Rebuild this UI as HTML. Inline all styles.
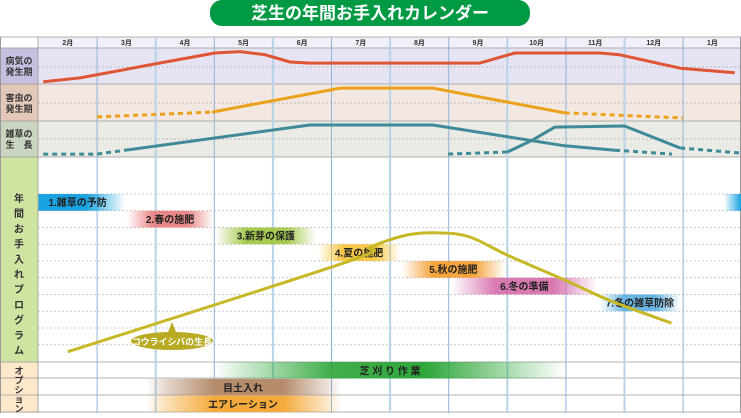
<!DOCTYPE html>
<html><head><meta charset="utf-8"><style>
html,body{margin:0;padding:0;background:#fff;}
body{width:741px;height:413px;overflow:hidden;font-family:"Liberation Sans","Noto Sans CJK JP",sans-serif;}
svg text{font-family:"Liberation Sans","Noto Sans CJK JP",sans-serif;}
</style></head><body>
<svg id="chart" width="741" height="413" viewBox="0 0 741 413" xmlns="http://www.w3.org/2000/svg">
<defs id="defs"></defs>
<g id="bg"></g><g id="grid"></g><g id="series"></g><g id="bars"></g><g id="labels"></g>
</svg>
<script>
const months = ["2月","3月","4月","5月","6月","7月","8月","9月","10月","11月","12月","1月"];
// series points: [month position, value 0-1 within row]
const diseasePts = [[0.08,0.06],[0.71,0.17],[1.9,0.53],[3.01,0.86],[3.44,0.9],[3.87,0.81],[4.29,0.61],[4.63,0.58],[7.53,0.58],[8.13,0.86],[9.58,0.86],[9.92,0.81],[10.95,0.44],[11.88,0.31]];
const pestDash1 = [[1.0,0.11],[2.96,0.24]];
const pestSolid = [[2.96,0.24],[5.15,0.89],[6.73,0.89],[8.98,0.22]];
const pestDash2 = [[8.98,0.22],[11.0,0.08]];
const weedADash1 = [[0.08,0.08],[1.0,0.08],[1.48,0.19]];
const weedASolid = [[1.48,0.19],[4.63,0.89],[6.73,0.89],[8.98,0.31],[9.84,0.19]];
const weedADash2 = [[9.84,0.19],[10.81,0.08]];
const weedBDash1 = [[6.99,0.08],[8.0,0.14]];
const weedBSolid = [[8.0,0.14],[8.43,0.47],[8.81,0.83],[10.0,0.86],[10.95,0.25]];
const weedBDash2 = [[10.95,0.25],[11.97,0.11]];
// growth of Korai-shiba (0-100 scale)
const growthPts = [[0.5,5],[5.28,49],[5.66,56],[6.3,62],[6.85,63],[7.36,61],[8.01,52],[8.98,40],[9.75,30],[10.8,19]];
// program bars: label, start month, end month, row
const progLabels = ["1.雑草の予防","2.春の施肥","3.新芽の保護","4.夏の施肥","5.秋の施肥","6.冬の準備","7.冬の雑草防除"];
const progStart = [0,1.51,3.02,4.77,6.2,7.05,9.58];
const progEnd = [1.48,2.98,4.74,6.17,7.96,9.53,10.95];
const progColors = ["#1aa3e0","#e77a7a","#9cc43c","#f7c234","#f49a28","#d46aa8","#5aaee0"];
const optLabels = ["芝 刈 り 作 業","目土入れ","エアレーション"];
const optStart = [3.0,1.83,1.83];
const optEnd = [8.98,5.18,5.18];
const optColors = ["#2ea63a","#b58c6c","#f4a93a"];

const X0=38.5, MW=58.6;
const xs = m => X0 + m*MW;
const NS="http://www.w3.org/2000/svg";
function el(tag, attrs, parent){const e=document.createElementNS(NS,tag);for(const k in attrs)e.setAttribute(k,attrs[k]);parent.appendChild(e);return e;}
const bg=document.getElementById('bg'),grid=document.getElementById('grid'),ser=document.getElementById('series'),bars=document.getElementById('bars'),lab=document.getElementById('labels'),defs=document.getElementById('defs');

// title
const pill=el('path',{d:"M222 0 H518 A12 12 0 0 1 530 12 V14 A12 12 0 0 1 518 26 H222 A12 12 0 0 1 210 14 V12 A12 12 0 0 1 222 0Z",fill:"#009944"},bg);


const tt=el('text',{x:370,y:19,'text-anchor':'middle','font-size':17,'font-weight':'bold',fill:'#fff'},lab);
tt.textContent="芝生の年間お手入れカレンダー";



// rows
const rows=[[37,48,"#f1f0f8","#f1f0f8"],[48,84,"#e6e4f2","#c7bfe0"],[84,121,"#f3e7e1","#e3c7b8"],[121,157,"#e9ebe4","#c9d5c0"],[157,362,"#ffffff","#d0e4a2"],[362,413,"#ffffff","#fde8cc"]];
rows.forEach((r,i)=>{
  const a=el('rect',{x:38,y:r[0],width:703,height:r[1]-r[0],fill:r[2]},bg);
  
  
  const b=el('rect',{x:0,y:r[0],width:38,height:r[1]-r[0],fill:i==0?"#fff":r[3]},bg);
  
  
});
// mid dotted lines in top rows
[67,103,139].forEach(y=>{el('line',{x1:38,x2:741,y1:y,y2:y,stroke:'#aaa','stroke-width':0.8,'stroke-dasharray':'2 2'},grid);});
// program dashed lines
for(let i=0;i<10;i++){const y=194+i*16.75;el('line',{x1:38,x2:741,y1:y,y2:y,stroke:'#bbb','stroke-width':0.8,'stroke-dasharray':'2 2'},grid);}
// horizontal row borders
[37,48,84,121,157,362,378,395,412].forEach(y=>{el('line',{x1:0,x2:741,y1:y,y2:y,stroke:'#999','stroke-width':0.8},grid);});
el('line',{x1:38,x2:38,y1:37,y2:413,stroke:'#999','stroke-width':0.8},grid);
el('line',{x1:0.5,x2:0.5,y1:37,y2:413,stroke:'#999','stroke-width':1},grid);
el('line',{x1:740.5,x2:740.5,y1:37,y2:413,stroke:'#999','stroke-width':1},grid);
// vertical month lines
for(let i=1;i<12;i++){const l=el('line',{x1:xs(i),x2:xs(i),y1:37,y2:413,stroke:(i%2==0?'#b8d2e8':'#8fb4d8'),'stroke-width':(i%2==0?2:1)},grid);}
// month labels
months.forEach((m,i)=>{const t=el('text',{x:xs(i+0.5),y:45,'text-anchor':'middle','font-size':7,'font-weight':'bold',fill:'#333'},lab);t.textContent=m;

});
// row labels
function vlabel(lines,x,y,lh,fs){lines.forEach((s,i)=>{const t=el('text',{x:x,y:y+i*lh,'font-size':fs,'font-weight':'bold',fill:'#333','text-anchor':'middle'},lab);t.textContent=s;

});}
vlabel(["病気の","発生期"],19,64,11,9);
vlabel(["害虫の","発生期"],19,101,11,9);
vlabel(["雑草の","生　長"],19,137,11,9);
vlabel("年間お手入れプログラム".split(""),19,202,15.2,10);
vlabel("オプション".split(""),19,374,9.5,9);

function path(pts,y0,y1,color,dash,w){
  const d=pts.map((p,i)=>(i?'L':'M')+xs(p[0]).toFixed(1)+' '+(y1-(y1-y0)*p[1]).toFixed(1)).join(' ');
  const a={d:d,fill:'none',stroke:color,'stroke-width':w||3,'stroke-linejoin':'round'};
  if(dash)a['stroke-dasharray']=dash;
  return el('path',a,ser);
}
const C1="#e05535",C2="#eba21a",C3="#3f8a98";
let p;
p=path(diseasePts,48,84,C1);
p=path(pestDash1,84,121,C2,'5 4');
p=path(pestSolid,84,121,C2);
p=path(pestDash2,84,121,C2,'5 4');
p=path(weedADash1,121,157,C3,'5 4');
p=path(weedASolid,121,157,C3);
p=path(weedADash2,121,157,C3,'5 4');
p=path(weedBDash1,121,157,C3,'5 4');
p=path(weedBSolid,121,157,C3);
p=path(weedBDash2,121,157,C3,'5 4');

function grad(id,color,leftSolid){
  const g=el('linearGradient',{id:id,x1:0,x2:1,y1:0,y2:0},defs);
  if(leftSolid){el('stop',{offset:'0','stop-color':color},g);el('stop',{offset:'0.55','stop-color':color},g);el('stop',{offset:'1','stop-color':color,'stop-opacity':0},g);}
  else{el('stop',{offset:'0','stop-color':color,'stop-opacity':0},g);el('stop',{offset:'0.3','stop-color':color,'stop-opacity':0.9},g);el('stop',{offset:'0.7','stop-color':color,'stop-opacity':0.9},g);el('stop',{offset:'1','stop-color':color,'stop-opacity':0},g);}
}
progLabels.forEach((s,i)=>{
  grad('pg'+i,progColors[i],i==0);
  const y=194+i*16.75;
  const r=el('rect',{x:xs(progStart[i]),y:y,width:xs(progEnd[i])-xs(progStart[i]),height:16.75,fill:'url(#pg'+i+')'},bars);
  
  
  const t=el('text',{x:i==0?xs(0.17):(xs(progStart[i])+xs(progEnd[i]))/2,y:y+12,'text-anchor':i==0?'start':'middle','font-size':10,'font-weight':'bold',fill:'#222'},bars);
  t.textContent=s;
  
  
});
// wrap-around of bar 1
grad('pgw',progColors[0],false);
const gw=el('linearGradient',{id:'pgw2',x1:0,x2:1,y1:0,y2:0},defs);
el('stop',{offset:'0','stop-color':progColors[0],'stop-opacity':0},gw);el('stop',{offset:'1','stop-color':progColors[0]},gw);
const wr=el('rect',{x:724,y:194,width:17,height:16.75,fill:'url(#pgw2)'},bars);



// growth curve (smooth)
function gx(p){return xs(p[0]);} function gy(p){return 362-p[1]*2.05;}
let d='M'+gx(growthPts[0])+' '+gy(growthPts[0]);
for(let i=0;i<growthPts.length-1;i++){
  const p0=growthPts[Math.max(0,i-1)],p1=growthPts[i],p2=growthPts[i+1],p3=growthPts[Math.min(growthPts.length-1,i+2)];
  const c1x=gx(p1)+(gx(p2)-gx(p0))/6,c1y=gy(p1)+(gy(p2)-gy(p0))/6,c2x=gx(p2)-(gx(p3)-gx(p1))/6,c2y=gy(p2)-(gy(p3)-gy(p1))/6;
  d+=` C${c1x.toFixed(1)} ${c1y.toFixed(1)} ${c2x.toFixed(1)} ${c2y.toFixed(1)} ${gx(p2).toFixed(1)} ${gy(p2).toFixed(1)}`;
}
const gl=el('path',{d:d,fill:'none',stroke:'#c7b828','stroke-width':3,'stroke-linejoin':'round'},bars);


const cb=el('path',{d:"M168 332 L172 322 L176 332 Z",fill:'#b8aa22'},bars);


const ce=el('ellipse',{cx:172,cy:341,rx:41,ry:9,fill:'#b8aa22'},bars);


const ct=el('text',{x:172,y:345,'text-anchor':'middle','font-size':9,'font-weight':'bold',fill:'#fff'},bars);
ct.textContent="コウライシバの生長";



// options
optLabels.forEach((s,i)=>{
  const id='og'+i;const g=el('linearGradient',{id:id,x1:0,x2:1,y1:0,y2:0},defs);
  if(i==0){el('stop',{offset:'0','stop-color':optColors[i],'stop-opacity':0},g);el('stop',{offset:'0.33','stop-color':optColors[i],'stop-opacity':0.9},g);el('stop',{offset:'0.6','stop-color':optColors[i]},g);el('stop',{offset:'1','stop-color':optColors[i],'stop-opacity':0},g);}
  else{el('stop',{offset:'0','stop-color':optColors[i],'stop-opacity':0},g);el('stop',{offset:'0.12','stop-color':optColors[i],'stop-opacity':0.4},g);el('stop',{offset:'0.35','stop-color':optColors[i]},g);el('stop',{offset:'0.7','stop-color':optColors[i]},g);el('stop',{offset:'1','stop-color':optColors[i],'stop-opacity':0},g);}
  const y=362+i*16.8;
  const r=el('rect',{x:xs(optStart[i]),y:y,width:xs(optEnd[i])-xs(optStart[i]),height:16.5,fill:'url(#'+id+')'},bars);
  
  
  const t=el('text',{x:i==0?390:243,y:y+12.5,'text-anchor':'middle','font-size':10,'font-weight':'bold',fill:'#222'},bars);
  t.textContent=s;
  
  
});
</script>
</body></html>
